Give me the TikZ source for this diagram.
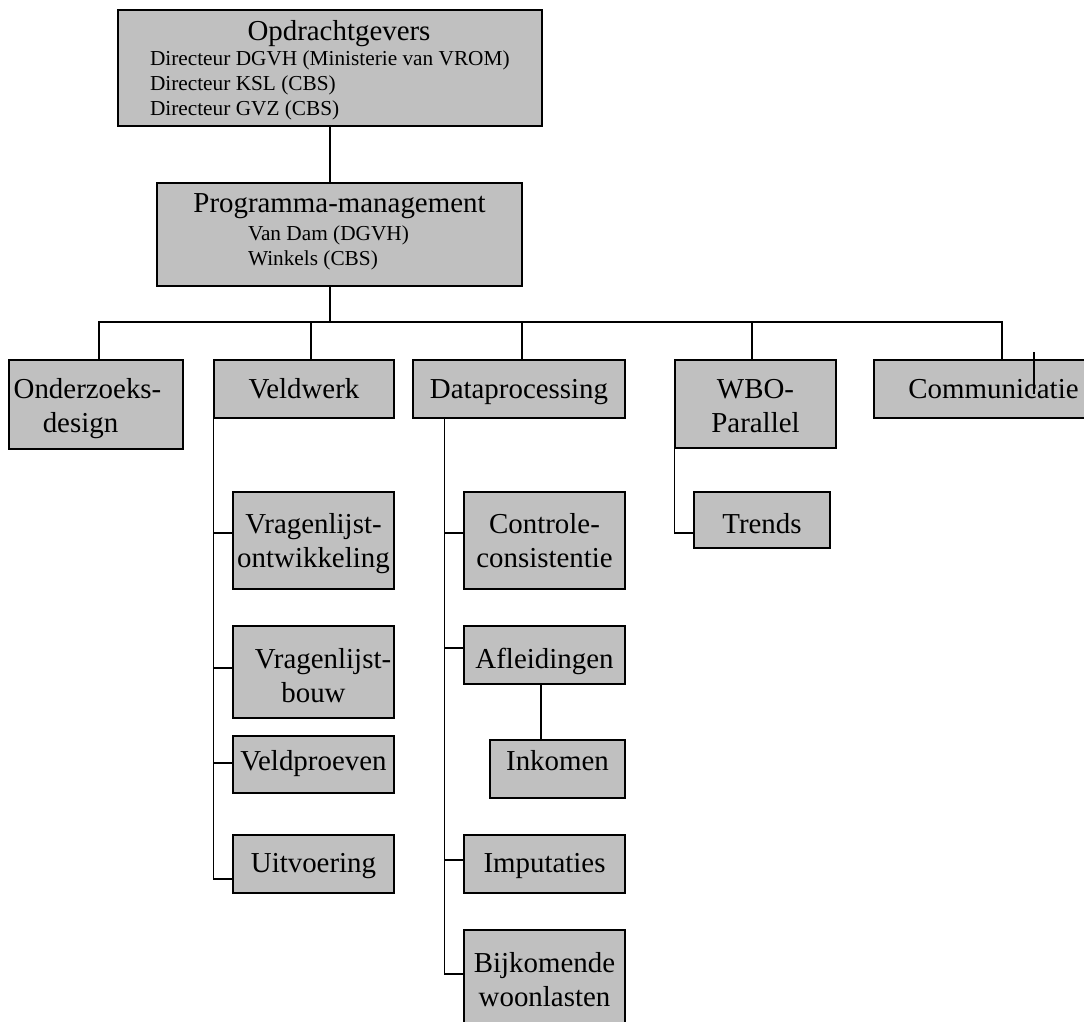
\documentclass[tikz,border=0pt]{standalone}
\usepackage{fontspec}
\setmainfont{Liberation Serif}
\definecolor{boxgray}{HTML}{C0C0C0}
\newcommand{\strt}[2]{\rule[-#2pt]{0pt}{\dimexpr #1pt + #2pt\relax}}
\tikzset{
  bx/.style={draw=black, fill=boxgray, line width=1.4pt, rectangle, inner sep=0pt,
             align=center, font=\fontsize{28.9}{34}\selectfont},
  conn/.style={draw=black, line width=1.3pt}
}
\begin{document}
\begin{tikzpicture}[x=1pt,y=-1pt]
\clip (0,0) rectangle (1084,1022);
\fill[white] (0,0) rectangle (1084,1022);

% top levels
\node[bx, minimum width=424pt, minimum height=116pt] (opd) at (330,68)
  {\parbox{360pt}{\centering\hspace*{18pt}{\fontsize{28.9}{34}\selectfont\rule{0pt}{23.6pt}Opdrachtgevers}\par
   \raggedright\fontsize{21.3}{25}\selectfont Directeur DGVH (Ministerie van VROM)\\Directeur KSL (CBS)\\Directeur GVZ (CBS)\par}};
\node[bx, minimum width=365pt, minimum height=103pt] (prog) at (339.5,234.5)
  {\parbox{295pt}{\centering{\fontsize{28.9}{34}\selectfont Programma-management}\par\vspace{3pt}
   \raggedright\fontsize{21.3}{25}\selectfont\hspace*{56pt}Van Dam (DGVH)\\\hspace*{56pt}Winkels (CBS)\rule[-9pt]{0pt}{9pt}\par}};

% first row
\node[bx, minimum width=174pt, minimum height=89pt] (ond) at (96,404.5)
  {\strt{29}{0}Onderzoeks-\hspace*{17pt}\null\\\strt{0}{8}design\hspace*{31pt}\null};
\node[bx, minimum width=180pt, minimum height=58pt] (veld) at (304,389) {\strt{26}{8}Veldwerk};
\node[bx, minimum width=212pt, minimum height=58pt] (data) at (519,389) {\strt{26}{8}Dataprocessing};
\node[bx, minimum width=161pt, minimum height=88pt] (wbo) at (755.5,404) {\strt{31}{0}WBO-\\\strt{0}{8}Parallel};
\node[bx, minimum width=239pt, minimum height=58pt] (comm) at (993.5,389) {\strt{26}{8}Communicatie};

% Veldwerk children
\node[bx, minimum width=161pt, minimum height=97pt] (vro) at (313.5,540.5) {\strt{27}{0}Vragenlijst-\\\strt{0}{8}ontwikkeling};
\node[bx, minimum width=161pt, minimum height=92pt] (vrb) at (313.5,672) {\strt{34}{0}\hspace*{19pt}Vragenlijst-\\\strt{0}{8}bouw};
\node[bx, minimum width=161pt, minimum height=57pt] (vpr) at (313.5,764.5) {\strt{22}{11}Veldproeven};
\node[bx, minimum width=161pt, minimum height=58pt] (uitv) at (313.5,864) {\strt{24}{8}Uitvoering};

% Dataprocessing children
\node[bx, minimum width=161pt, minimum height=97pt] (cont) at (544.5,540.5) {\strt{27}{0}Controle-\\\strt{0}{8}consistentie};
\node[bx, minimum width=161pt, minimum height=58pt] (afl) at (544.5,655) {\strt{34}{8}Afleidingen};
\node[bx, minimum width=135pt, minimum height=58pt] (ink) at (557.5,769) {\strt{22}{20}Inkomen};
\node[bx, minimum width=161pt, minimum height=58pt] (imp) at (544.5,864) {\strt{24}{8}Imputaties};
\node[bx, minimum width=161pt, minimum height=97pt] (bijk) at (544.5,978.5) {\strt{30}{0}Bijkomende\\\strt{0}{8}woonlasten};

% WBO child
\node[bx, minimum width=136pt, minimum height=56pt] (trd) at (762,520) {\strt{34}{8}Trends};

% connectors
\coordinate (bus) at (330,322);
\draw[conn] (opd.south) -- (opd.south |- prog.north);
\draw[conn] (prog.south -| bus) -- (bus);
\draw[conn] ([xshift=3pt]ond.north) |- ([xshift=8.5pt]comm.north |- bus) -- ([xshift=8.5pt]comm.north);
\draw[conn] ([xshift=7pt]veld.north) -- ([xshift=7pt]veld.north |- bus);
\draw[conn] ([xshift=3pt]data.north) -- ([xshift=3pt]data.north |- bus);
\draw[conn] ([xshift=-3.5pt]wbo.north) -- ([xshift=-3.5pt]wbo.north |- bus);

% Veldwerk tree
\draw[conn] (veld.south west) |- ([yshift=-15pt]uitv.west);
\draw[conn] ([yshift=7.5pt]vro.west) -- ([yshift=7.5pt]vro.west -| veld.south west);
\draw[conn] ([yshift=4pt]vrb.west) -- ([yshift=4pt]vrb.west -| veld.south west);
\draw[conn] ([yshift=1.5pt]vpr.west) -- ([yshift=1.5pt]vpr.west -| veld.south west);

% Dataprocessing tree
\coordinate (dv) at ([xshift=32pt]data.south west);
\draw[conn] (dv) |- ([yshift=4.5pt]bijk.west);
\draw[conn] ([yshift=7.5pt]cont.west) -- ([yshift=7.5pt]cont.west -| dv);
\draw[conn] ([yshift=7pt]afl.west) -- ([yshift=7pt]afl.west -| dv);
\draw[conn] ([yshift=4pt]imp.west) -- ([yshift=4pt]imp.west -| dv);
\draw[conn] ([xshift=-3.5pt]afl.south) -- ([xshift=-3.5pt]afl.south |- ink.north);

% WBO tree
\draw[conn] ([yshift=11pt]wbo.south west) |- ([yshift=-13pt]trd.west);

% stray tick in Communicatie
\draw[conn] ([xshift=40.5pt,yshift=7pt]comm.north) -- ([xshift=40.5pt,yshift=-35pt]comm.north);
\end{tikzpicture}
\end{document}
